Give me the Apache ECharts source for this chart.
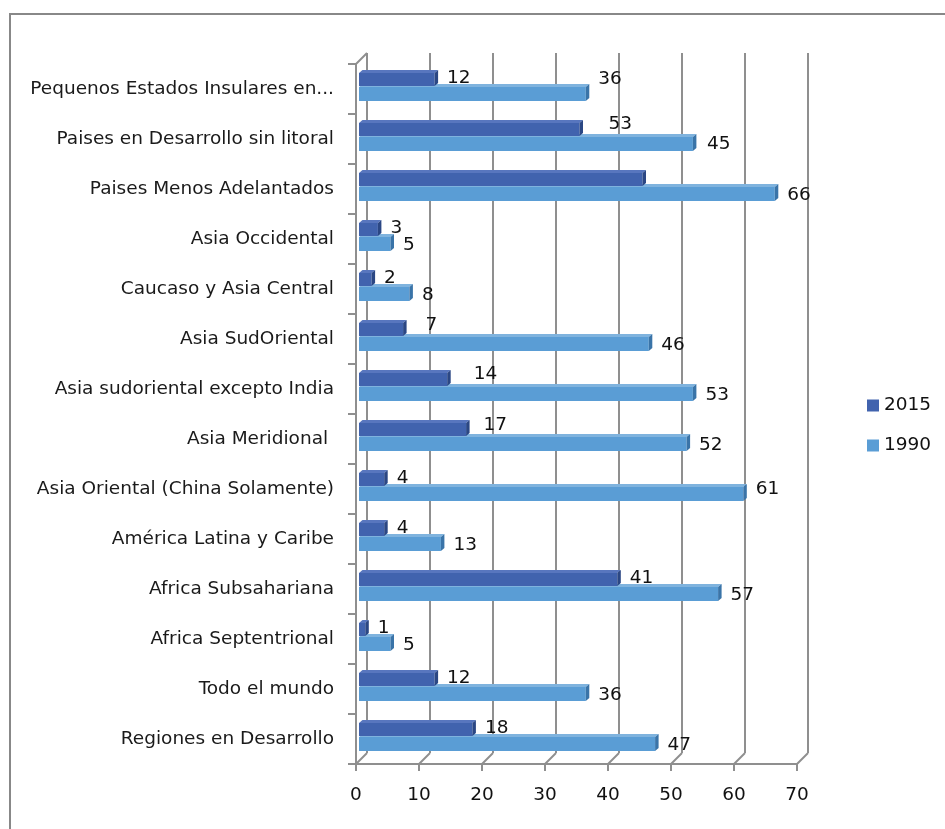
<!DOCTYPE html>
<html>
<head>
<meta charset="utf-8">
<script src="https://cdn.jsdelivr.net/npm/echarts@6/dist/echarts.min.js"></script>
<style>
  html, body { margin: 0; padding: 0; background: #fff; }
  #chart { width: 945px; height: 829px; }
</style>
</head>
<body>
<div id="chart"></div>
<script>
// Regions, top to bottom
const categories = [
  'Pequenos Estados Insulares en...',
  'Paises en Desarrollo sin litoral',
  'Paises Menos Adelantados',
  'Asia Occidental',
  'Caucaso y Asia Central',
  'Asia SudOriental',
  'Asia sudoriental excepto India',
  'Asia Meridional ',
  'Asia Oriental (China Solamente)',
  'América Latina y Caribe',
  'Africa Subsahariana',
  'Africa Septentrional',
  'Todo el mundo',
  'Regiones en Desarrollo'
];
const values2015 = [12, 35, 45, 3, 2, 7, 14, 17, 4, 4, 41, 1, 12, 18];
const values1990 = [36, 53, 66, 5, 8, 46, 53, 52, 61, 13, 57, 5, 36, 47];
const seriesNames = ['2015', '1990'];
const xTicks = [0, 10, 20, 30, 40, 50, 60, 70];

// Label placement tweaks (pixels), keyed by series name and category index
const labelTweaks = {
  '2015|1': { hide: true },
  '2015|2': { dx: 52, dy: -34 },
  '2015|5': { dx: 10, dy: -3 },
  '2015|6': { dx: 14, dy: -4 },
  '2015|7': { dx: 5, dy: -3 },
  '1990|0': { dx: 0, dy: -16 },
  '1990|1': { dx: -97, dy: -21 },
  '1990|8': { dx: 0, dy: -6 }
};

const FONT = '"DejaVu Sans", sans-serif';
const GRID_GRAY = '#8f8f8f';

// face colours: front, top, side
const palette = {
  '2015': { front: '#4163ae', top: '#5876be', side: '#2b4784' },
  '1990': { front: '#5a9dd5', top: '#7fb3de', side: '#3a74a8' }
};

function barRenderer(name) {
  const isNew = name === '2015';
  const colors = palette[name];
  return function (params, api) {
    const catIdx = api.value(1);
    const val = api.value(0);
    const p0 = api.coord([0, catIdx]);
    const p1 = api.coord([val, catIdx]);
    const band = api.size([0, 1])[1];
    const cy = p0[1];
    const y0 = isNew ? cy - 0.32 * band : cy - 0.04 * band;
    const y1 = isNew ? cy - 0.06 * band : cy + 0.24 * band;
    const x0 = p0[0] + 3;
    const x1 = p1[0] + 3;
    const dx = 3.5, dy = -3;
    const children = [
      { type: 'polygon', shape: { points: [[x0, y0], [x1, y0], [x1 + dx, y0 + dy], [x0 + dx, y0 + dy]] },
        style: { fill: colors.top } },
      { type: 'rect', shape: { x: x0, y: y0, width: x1 - x0, height: y1 - y0 },
        style: { fill: colors.front } },
      { type: 'polygon', shape: { points: [[x1, y0], [x1 + dx, y0 + dy], [x1 + dx, y1 + dy], [x1, y1]] },
        style: { fill: colors.side } }
    ];
    const tw = labelTweaks[name + '|' + params.dataIndex] || {};
    if (!tw.hide) {
      children.push({
        type: 'text',
        style: {
          text: String(val),
          x: x1 + dx + 9 + (tw.dx || 0),
          y: (y0 + y1) / 2 + (isNew ? -1 : 1) + (tw.dy || 0),
          verticalAlign: 'middle',
          align: 'left',
          fill: '#111',
          fontSize: 18.5,
          fontFamily: FONT
        }
      });
    }
    return { type: 'group', children: children };
  };
}

// Floor edges and the top edge of the left wall, drawn at each value tick
function wallRenderer(params, api) {
  const cs = params.coordSys;
  const v = api.value(0);
  const x = api.coord([v, 0])[0];
  const bottom = cs.y + cs.height;
  const lines = [
    { type: 'line', shape: { x1: x, y1: bottom, x2: x + 11, y2: bottom - 11 },
      style: { stroke: GRID_GRAY, lineWidth: 2 } }
  ];
  if (params.dataIndex === 0) {
    lines.push({ type: 'line', shape: { x1: x, y1: cs.y, x2: x + 11, y2: cs.y - 11 },
      style: { stroke: GRID_GRAY, lineWidth: 2 } });
  }
  return { type: 'group', children: lines };
}

const chart = echarts.init(document.getElementById('chart'), null, { renderer: 'canvas' });

const seriesData = {
  '2015': values2015.map((v, i) => [v, i]),
  '1990': values1990.map((v, i) => [v, i])
};

chart.setOption({
  animation: false,
  backgroundColor: '#fff',
  graphic: [{
    type: 'rect',
    shape: { x: 10, y: 14, width: 1000, height: 1000 },
    style: { fill: 'none', stroke: '#888', lineWidth: 2 },
    z: 0
  }],
  legend: {
    orient: 'vertical',
    left: 862,
    top: 391,
    itemWidth: 12,
    itemHeight: 12,
    itemGap: 21,
    icon: 'rect',
    data: seriesNames.map(n => ({ name: n, itemStyle: { color: palette[n].front } })),
    textStyle: { fontFamily: FONT, fontSize: 18.5, color: '#111' }
  },
  grid: [
    { left: 356, top: 64, width: 441, height: 700 },
    { left: 367, top: 53, width: 441, height: 700 }
  ],
  xAxis: [
    {
      gridIndex: 0, type: 'value', min: 0, max: 70, interval: 10,
      splitLine: { show: false },
      axisLine: { show: true, lineStyle: { color: GRID_GRAY, width: 2 } },
      axisTick: { show: true, length: 7, lineStyle: { color: GRID_GRAY, width: 2 } },
      axisLabel: { margin: 22, fontFamily: FONT, fontSize: 18.5, color: '#111',
        formatter: v => xTicks.indexOf(v) >= 0 ? String(v) : '' }
    },
    {
      gridIndex: 1, type: 'value', min: 0, max: 70, interval: 10,
      splitLine: { show: true, lineStyle: { color: GRID_GRAY, width: 2 } },
      axisLine: { show: false }, axisTick: { show: false }, axisLabel: { show: false }
    }
  ],
  yAxis: [
    {
      gridIndex: 0, type: 'category', inverse: true, data: categories,
      axisLine: { show: true, lineStyle: { color: GRID_GRAY, width: 2 } },
      axisTick: { show: true, length: 8, lineStyle: { color: GRID_GRAY, width: 2 } },
      axisLabel: { margin: 22, padding: [4, 0, 0, 0], fontFamily: FONT, fontSize: 18.5, color: '#1a1a1a' },
      splitLine: { show: false }
    },
    { gridIndex: 1, type: 'value', show: false }
  ],
  series: [
    {
      name: '2015', type: 'custom', xAxisIndex: 0, yAxisIndex: 0, z: 4,
      itemStyle: { color: palette['2015'].front },
      encode: { x: 0, y: 1 },
      renderItem: barRenderer('2015'),
      data: seriesData['2015']
    },
    {
      name: '1990', type: 'custom', xAxisIndex: 0, yAxisIndex: 0, z: 3,
      itemStyle: { color: palette['1990'].front },
      encode: { x: 0, y: 1 },
      renderItem: barRenderer('1990'),
      data: seriesData['1990']
    },
    {
      name: 'walls', type: 'custom', xAxisIndex: 0, yAxisIndex: 0, z: 1,
      silent: true,
      encode: { x: 0 },
      renderItem: wallRenderer,
      data: xTicks.map(v => [v, 0])
    }
  ]
});
</script>
</body>
</html>
